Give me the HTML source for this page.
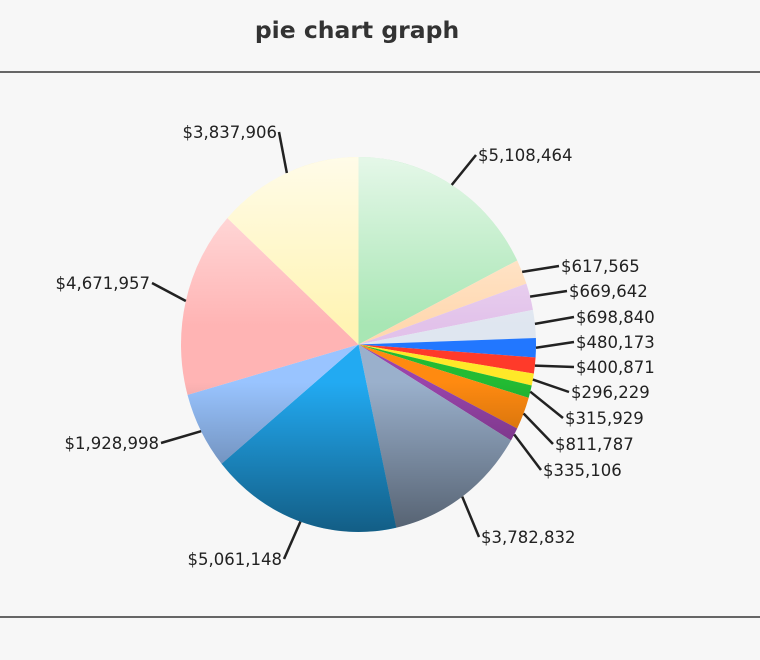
<!DOCTYPE html>
<html><head><meta charset="utf-8"><style>
body{margin:0;width:760px;height:656px;background:#f7f7f7;overflow:hidden;font-family:"DejaVu Sans","Liberation Sans",sans-serif}
</style></head><body>
<svg id="s" width="760" height="656" xmlns="http://www.w3.org/2000/svg">
<defs>
<linearGradient id="ov" x1="0" y1="0" x2="0" y2="1">
<stop offset="0" stop-color="#fff" stop-opacity="0.7"/>
<stop offset="0.45" stop-color="#fff" stop-opacity="0"/>
<stop offset="0.6" stop-color="#000" stop-opacity="0"/>
<stop offset="1" stop-color="#000" stop-opacity="0.45"/>
</linearGradient>
</defs>
<rect width="760" height="656" fill="#f7f7f7"/>
<text x="357" y="38" text-anchor="middle" font-size="23.5" font-weight="bold" fill="#333">pie chart graph</text>
<rect x="0" y="71" width="760" height="2" fill="#666"/>
<rect x="0" y="616" width="760" height="2" fill="#666"/>
<g id="pie"></g>
<g id="lab" font-size="16.5" fill="#222"></g>
</svg>
<script>
var v=[5108464,617565,669642,698840,480173,400871,296229,315929,811787,335106,3782832,5061148,1928998,4671957,3837906];
var c=["#a8e6b4","#ffd8b0","#e2c2ea","#dfe6f0","#2277ff","#ff3a2a","#ffe828","#22bb33","#ff8a10","#9944aa","#9ab0cc","#22aaf2","#99c4ff","#ffb4b4","#fff4b4"];
var L=[[480,155],[563,266],[571,291],[578,317],[578,342],[578,367],[573,392],[567,418],[557,444],[545,470],[483,537],[280,559],[157,443],[148,283],[275,132]];
var cx=358.5,cy=344.5,rx=177.5,ry=187.5,T=0;v.forEach(function(x){T+=x});
var p='',l='',a=0;
function pt(t){return [cx+rx*Math.sin(t),cy-ry*Math.cos(t)];}
v.forEach(function(x,i){var a1=a+x/T*2*Math.PI;var s=pt(a),e=pt(a1);
p+='<path d="M'+cx+','+cy+'L'+s[0]+','+s[1]+'A'+rx+','+ry+' 0 '+((a1-a)>Math.PI?1:0)+' 1 '+e[0]+','+e[1]+'Z" fill="'+c[i]+'"/>';
var m=pt((a+a1)/2),lx=L[i][0],ly=L[i][1],left=lx<cx;
var ex=left?lx+4:lx-4;
l+='<line x1="'+m[0]+'" y1="'+m[1]+'" x2="'+ex+'" y2="'+ly+'" stroke="#222" stroke-width="2.5"/>';
l+='<text x="'+(left?lx+2:lx-2)+'" y="'+(ly+6)+'" text-anchor="'+(left?'end':'start')+'">$'+x.toLocaleString('en-US')+'</text>';
a=a1;});
p+='<ellipse cx="'+cx+'" cy="'+cy+'" rx="'+rx+'" ry="'+ry+'" fill="url(#ov)"/>';
document.getElementById('pie').innerHTML=p;document.getElementById('lab').innerHTML=l;
</script>
</body></html>
